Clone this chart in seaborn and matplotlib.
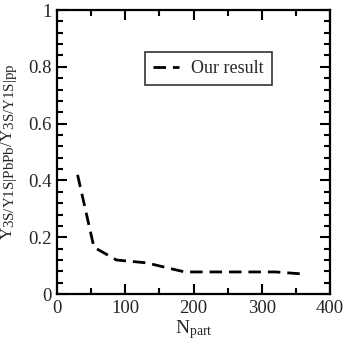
import matplotlib
matplotlib.use("Agg")
import matplotlib.pyplot as plt
import matplotlib._mathtext as mathtext_internals
import pandas as pd
import seaborn as sns
from matplotlib.ticker import MultipleLocator, FuncFormatter

# values
npart = [30, 54, 87, 131, 187, 260, 320, 365]
ratio = [0.42, 0.165, 0.12, 0.11, 0.078, 0.078, 0.078, 0.07]
series_label = "Our result"

df = pd.DataFrame({"npart": npart, "ratio": ratio, "label": series_label})

sns.set_theme(style="ticks")
plt.rcParams["font.family"] = ["Liberation Serif", "DejaVu Serif"]
plt.rcParams["mathtext.fontset"] = "custom"
plt.rcParams["mathtext.rm"] = "Liberation Serif"
plt.rcParams["mathtext.it"] = "Liberation Serif:italic"

fig, ax = plt.subplots(figsize=(3.46, 3.46), dpi=100)
fig.subplots_adjust(left=0.165, right=0.954, top=0.971, bottom=0.15)

sns.lineplot(ax=ax, data=df, x="npart", y="ratio", hue="label",
             palette=["black"], linewidth=2, dashes=False,
             linestyle=(0, (4.5, 2.5)))

ax.set_xlim(0, 400)
ax.set_ylim(0, 1)
ax.xaxis.set_major_locator(MultipleLocator(100))
ax.xaxis.set_minor_locator(MultipleLocator(50))
ax.yaxis.set_major_locator(MultipleLocator(0.2))
ax.yaxis.set_minor_locator(MultipleLocator(0.04))
ax.xaxis.set_major_formatter(FuncFormatter(lambda v, p: f"{v:.0f}"))
ax.yaxis.set_major_formatter(FuncFormatter(
    lambda v, p: "0" if abs(v) < 1e-9 else ("1" if abs(v - 1) < 1e-9 else f"{v:.1f}")))

ax.tick_params(which="both", direction="in", top=True, right=True, width=1.5,
               labelsize=13.5, color="black", pad=4)
ax.tick_params(which="major", length=7)
ax.tick_params(which="minor", length=4)
for s in ax.spines.values():
    s.set_linewidth(1.6)
    s.set_color("black")

leg = ax.legend(loc="upper left", bbox_to_anchor=(0.29, 0.885), fontsize=13,
                frameon=True, fancybox=False, handlelength=1.4, borderpad=0.45,
                handletextpad=0.7)
leg.get_frame().set_edgecolor("black")
leg.get_frame().set_linewidth(1.2)

ax.set_xlabel(r"N$_{\rm part}$", fontsize=14, labelpad=1)
fig.canvas.draw()

# the y label in the reference has nearly full-size subscripts
mathtext_internals.SHRINK_FACTOR = 0.9
ax.set_ylabel(r"Y$_{\rm 3S/Y1S|PbPb}$/Y$_{\rm 3S/Y1S|pp}$", fontsize=12)
ax.yaxis.set_label_coords(-0.14, 0.5)

fig.savefig("out.png", dpi=100)
